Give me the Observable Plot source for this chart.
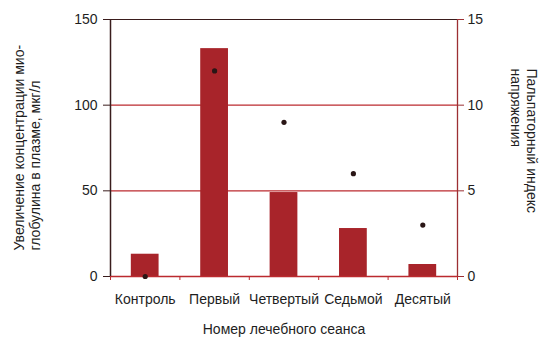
<!DOCTYPE html>
<html>
<head>
<meta charset="utf-8">
<script src="https://cdn.jsdelivr.net/npm/d3@7"></script>
<script src="https://cdn.jsdelivr.net/npm/@observablehq/plot@0.6"></script>
<style>
  html, body { margin: 0; padding: 0; background: #ffffff; }
</style>
</head>
<body>
<div id="chart"></div>
<script>
const categories = ["Контроль", "Первый", "Четвертый", "Седьмой", "Десятый"];
const myoglobin = [13, 133, 49, 28, 7];
const palpation = [0, 12, 9, 6, 3];
const leftTicks = [0, 50, 100, 150];
const rightTicks = [0, 5, 10, 15];

const data = categories.map((c, i) => ({cat: c, i, myo: myoglobin[i], palp: palpation[i]}));

const red = "#bb2a2f";
const barFill = "#a8242a";
const dark = "#3a1c1c";
const textColor = "#1e1e1e";

const plot = Plot.plot({
  width: 550,
  height: 347,
  marginLeft: 110,
  marginRight: 93,
  marginTop: 19,
  marginBottom: 71,
  style: {fontFamily: "'Liberation Sans', Arial, sans-serif", fontSize: "14px", background: "transparent", color: textColor},
  x: {domain: [0, categories.length], axis: null, label: null},
  y: {domain: [0, 150], axis: null, label: null},
  marks: [
    Plot.ruleY([50, 100], {stroke: red, strokeWidth: 1.2}),
    Plot.ruleY([150], {stroke: dark, strokeWidth: 1.2}),
    Plot.rectY(data, {x1: d => d.i + 0.3, x2: d => d.i + 0.7, y1: 0, y2: "myo", fill: barFill}),
    Plot.ruleY([0], {stroke: red, strokeWidth: 1.5}),
    Plot.ruleX([0], {stroke: dark, strokeWidth: 1.5}),
    Plot.ruleX([categories.length], {stroke: "#9c2f33", strokeWidth: 1.3}),
    Plot.axisY({anchor: "left", label: null, ticks: leftTicks, tickSize: 7, tickPadding: 6, fontSize: 14, stroke: dark, fill: textColor}),
    Plot.axisY({anchor: "right", label: null, ticks: rightTicks.map(v => v * 10), tickFormat: d => d / 10, tickSize: 6, tickPadding: 4, fontSize: 14, stroke: "#9c2f33", fill: textColor}),
    Plot.axisX({label: null, ticks: d3.range(categories.length + 1), tickSize: 4, tickFormat: () => "", stroke: red}),
    Plot.text(data, {x: d => d.i + 0.5, y: 0, text: "cat", dy: 23, fontSize: 14, fill: textColor}),
    Plot.dot(data, {x: d => d.i + 0.5, y: d => d.palp * 10, r: 2.6, fill: "#2a1616", stroke: null}),
    Plot.text(["Увеличение концентрации мио-\nглобулина в плазме, мкг/л"], {
      frameAnchor: "bottom-left", dx: -71, dy: -26, rotate: -90, textAnchor: "start",
      lineHeight: 1.1, fontSize: 14, fill: textColor
    }),
    Plot.text(["Пальпаторный индекс\nнапряжения"], {
      frameAnchor: "top-right", dx: 81, dy: 49, rotate: 90, textAnchor: "start",
      lineHeight: 1.15, fontSize: 14, fill: textColor
    }),
    Plot.text(["Номер лечебного сеанса"], {
      frameAnchor: "bottom", dy: 57, fontSize: 14, fill: textColor
    })
  ]
});

document.getElementById("chart").appendChild(plot);
</script>
</body>
</html>
